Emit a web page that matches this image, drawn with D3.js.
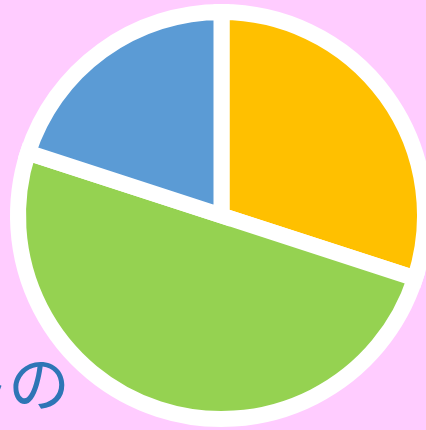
<!DOCTYPE html>
<html>
<head>
<meta charset="utf-8">
<script src="https://cdn.jsdelivr.net/npm/d3@7"></script>
<style>
html,body{margin:0;padding:0;background:#FFCCFF;overflow:hidden;}
svg{display:block;}
</style>
</head>
<body>
<svg id="chart" width="426" height="430"></svg>
<script>
const categories = ["A", "B", "C"];
const values = [30, 50, 20];
const colors = ["#FFC000", "#95D251", "#5B9BD5"];
const titleHead = "ポイント";
const titleTail = "の";

const W = 426, H = 430;
const cx = 221.5, cy = 215.5;
const svg = d3.select("#chart");
svg.append("rect").attr("width", W).attr("height", H).attr("fill", "#FFCCFF");

const g = svg.append("g").attr("transform", `translate(${cx},${cy})`);
g.append("circle").attr("r", 210.5).attr("fill", "#FFFFFF");

const pie = d3.pie().sort(null).value(d => d.v);
const arc = d3.arc().innerRadius(0).outerRadius(203.5);
const data = categories.map((c, i) => ({c, v: values[i], col: colors[i]}));

g.selectAll("path").data(pie(data)).join("path")
  .attr("d", arc)
  .attr("fill", d => d.data.col)
  .attr("stroke", "#FFFFFF")
  .attr("stroke-width", 16)
  .attr("stroke-linejoin", "miter");

const t = svg.append("text")
  .attr("x", 70).attr("y", 407)
  .attr("text-anchor", "end")
  .attr("font-family", "'Noto Sans CJK JP', sans-serif")
  .attr("font-size", 62)
  .attr("fill", "#2E75B6");
t.append("tspan").text(titleHead);
t.append("tspan").attr("dx", -3).text(titleTail);
</script>
</body>
</html>
